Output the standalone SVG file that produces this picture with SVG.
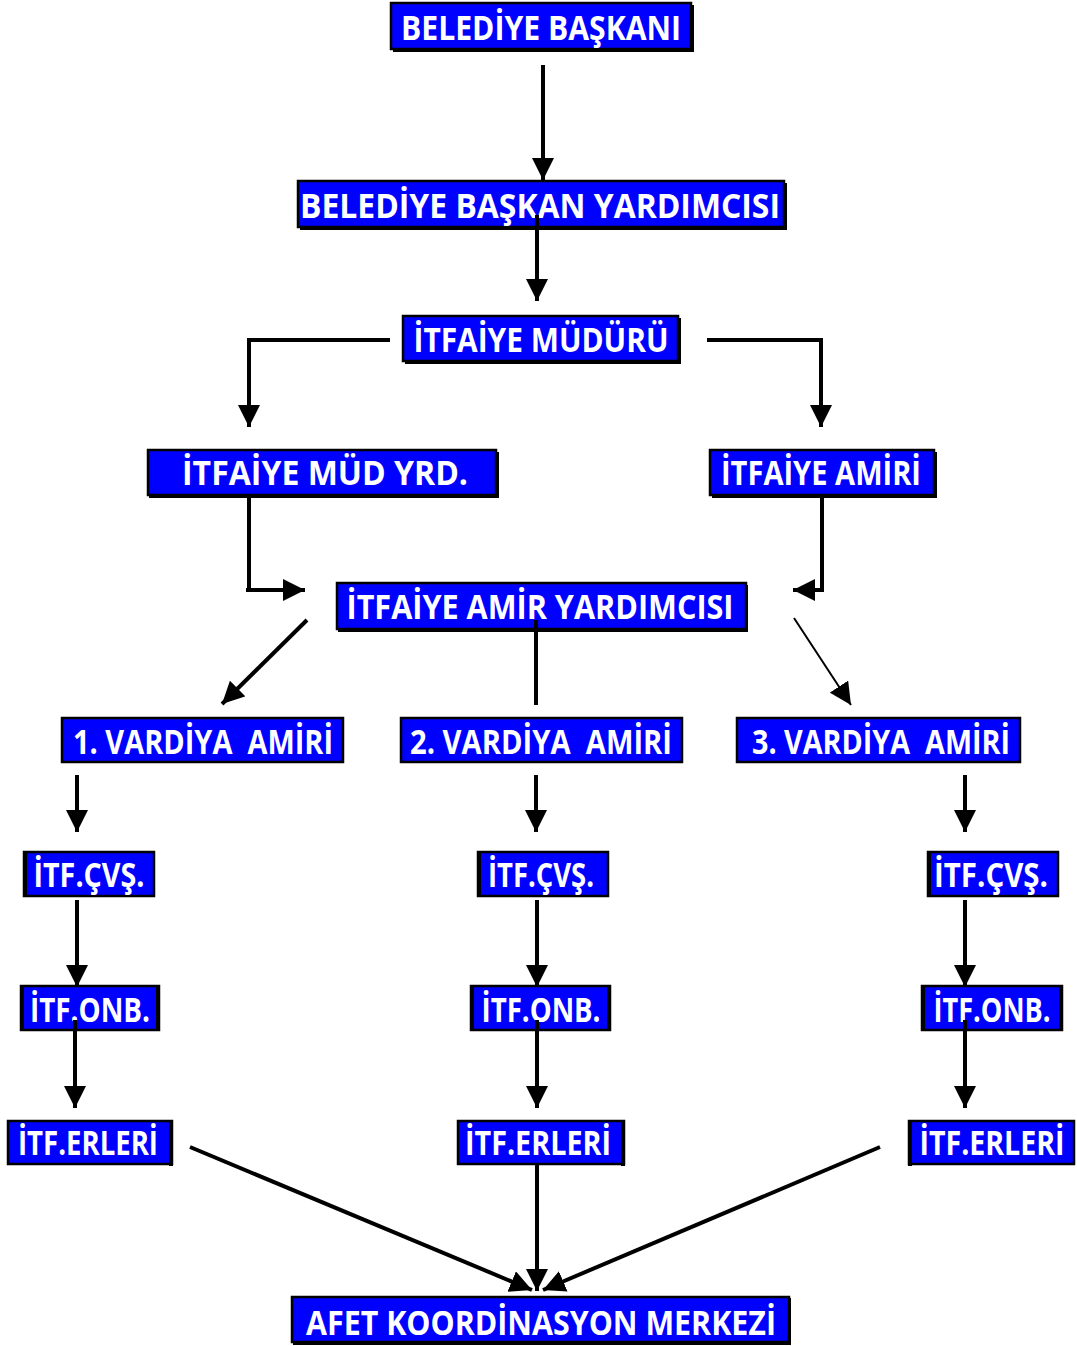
<svg xmlns="http://www.w3.org/2000/svg" width="1077" height="1346" viewBox="0 0 1077 1346">
<style>
.box{fill:#0000FF;stroke:#000;stroke-width:2.5}
.sh{fill:#000}
.t{fill:#fff;font-family:"Open Sans","Noto Sans","Liberation Sans",sans-serif;font-weight:bold;font-size:34px;text-anchor:middle;white-space:pre}
.c{fill:none;stroke:#000;stroke-width:4}
.thin{stroke-width:2}
</style>
<defs>
<marker id="ah" viewBox="0 0 20 20" refX="20" refY="10" markerWidth="22" markerHeight="22" markerUnits="userSpaceOnUse" orient="auto">
<path d="M0,0 L20,10 L0,20 z" fill="#000"/>
</marker>
</defs>
<rect width="1077" height="1346" fill="#fff"/>
<g id="n1"><rect class="sh" x="393" y="5" width="301" height="47"/><rect class="box" x="391" y="3" width="300" height="46"/><text class="t" x="541" y="40" textLength="280" lengthAdjust="spacingAndGlyphs">BELEDİYE BAŞKANI</text></g>
<g id="n2"><rect class="sh" x="300" y="183" width="487" height="47"/><rect class="box" x="298" y="181" width="486" height="46"/><text class="t" x="540" y="218" textLength="480" lengthAdjust="spacingAndGlyphs">BELEDİYE BAŞKAN YARDIMCISI</text></g>
<g id="n3"><rect class="sh" x="405" y="318" width="276" height="46"/><rect class="box" x="403" y="316" width="275" height="45"/><text class="t" x="541" y="352" textLength="255" lengthAdjust="spacingAndGlyphs">İTFAİYE MÜDÜRÜ</text></g>
<g id="n4"><rect class="sh" x="149" y="452" width="350" height="46"/><rect class="box" x="148" y="450" width="348" height="45"/><text class="t" x="325" y="485" textLength="286" lengthAdjust="spacingAndGlyphs">İTFAİYE MÜD YRD.</text></g>
<g id="n5"><rect class="sh" x="712" y="452" width="225" height="46"/><rect class="box" x="710" y="450" width="224" height="45"/><text class="t" x="821" y="485" textLength="200" lengthAdjust="spacingAndGlyphs">İTFAİYE AMİRİ</text></g>
<g id="n6"><rect class="sh" x="338" y="585" width="410" height="47"/><rect class="box" x="337" y="583" width="409" height="46"/><text class="t" x="540" y="619" textLength="387" lengthAdjust="spacingAndGlyphs">İTFAİYE AMİR YARDIMCISI</text></g>
<g id="n7"><rect class="box" x="62" y="718" width="281" height="44"/><text class="t" x="203" y="754" textLength="260" lengthAdjust="spacingAndGlyphs">1. VARDİYA  AMİRİ</text></g>
<g id="n8"><rect class="box" x="401" y="718" width="281" height="44"/><text class="t" x="541" y="754" textLength="262" lengthAdjust="spacingAndGlyphs">2. VARDİYA  AMİRİ</text></g>
<g id="n9"><rect class="box" x="737" y="718" width="283" height="44"/><text class="t" x="881" y="754" textLength="258" lengthAdjust="spacingAndGlyphs">3. VARDİYA  AMİRİ</text></g>
<g id="n10"><rect class="box" x="24" y="852" width="130" height="44"/><rect class="sh" x="23" y="851" width="4" height="46"/><text class="t" x="89" y="887" textLength="111" lengthAdjust="spacingAndGlyphs">İTF.ÇVŞ.</text></g>
<g id="n11"><rect class="box" x="478" y="852" width="130" height="44"/><rect class="sh" x="477" y="851" width="4" height="46"/><text class="t" x="541" y="887" textLength="106" lengthAdjust="spacingAndGlyphs">İTF.ÇVŞ.</text></g>
<g id="n12"><rect class="box" x="928" y="852" width="130" height="44"/><rect class="sh" x="927" y="851" width="4" height="46"/><text class="t" x="991" y="887" textLength="114" lengthAdjust="spacingAndGlyphs">İTF.ÇVŞ.</text></g>
<g id="n13"><rect class="box" x="21" y="986" width="138" height="44"/><rect class="sh" x="20" y="985" width="4" height="46"/><rect class="sh" x="156" y="985" width="4" height="46"/><text class="t" x="90" y="1022" textLength="120" lengthAdjust="spacingAndGlyphs">İTF.ONB.</text></g>
<g id="n14"><rect class="box" x="471" y="986" width="139" height="44"/><rect class="sh" x="470" y="985" width="4" height="46"/><rect class="sh" x="607" y="985" width="4" height="46"/><text class="t" x="541" y="1022" textLength="119" lengthAdjust="spacingAndGlyphs">İTF.ONB.</text></g>
<g id="n15"><rect class="box" x="922" y="986" width="140" height="44"/><rect class="sh" x="921" y="985" width="4" height="46"/><rect class="sh" x="1059" y="985" width="4" height="46"/><text class="t" x="992" y="1022" textLength="117" lengthAdjust="spacingAndGlyphs">İTF.ONB.</text></g>
<g id="n16"><rect class="box" x="8" y="1121" width="164" height="43"/><rect class="sh" x="169" y="1120" width="4" height="46"/><text class="t" x="88" y="1155" textLength="140" lengthAdjust="spacingAndGlyphs">İTF.ERLERİ</text></g>
<g id="n17"><rect class="box" x="458" y="1121" width="166" height="43"/><rect class="sh" x="621" y="1120" width="4" height="46"/><text class="t" x="538" y="1155" textLength="146" lengthAdjust="spacingAndGlyphs">İTF.ERLERİ</text></g>
<g id="n18"><rect class="box" x="909" y="1121" width="165" height="43"/><rect class="sh" x="908" y="1120" width="4" height="46"/><text class="t" x="992" y="1155" textLength="145" lengthAdjust="spacingAndGlyphs">İTF.ERLERİ</text></g>
<g id="n19"><rect class="sh" x="293" y="1298" width="498" height="47"/><rect class="box" x="292" y="1297" width="497" height="45"/><text class="t" x="541" y="1335" textLength="470" lengthAdjust="spacingAndGlyphs">AFET KOORDİNASYON MERKEZİ</text></g>
<g id="connectors">
<path class="c" d="M543,65 V180" marker-end="url(#ah)"/>
<path class="c" d="M537,215 V301" marker-end="url(#ah)"/>
<path class="c" d="M390,340 H249 V427" marker-end="url(#ah)"/>
<path class="c" d="M707,340 H821 V427" marker-end="url(#ah)"/>
<path class="c" d="M249,497 V590 M246,590 H305" marker-end="url(#ah)"/>
<path class="c" d="M822,497 V590 H793" marker-end="url(#ah)"/>
<path class="c" d="M307,620 L222,704" marker-end="url(#ah)"/>
<path class="c" d="M536,620 V705"/>
<path class="c thin" d="M794,618 L851,705" marker-end="url(#ah)"/>
<path class="c" d="M77,775 V832" marker-end="url(#ah)"/>
<path class="c" d="M536,775 V832" marker-end="url(#ah)"/>
<path class="c" d="M965,775 V832" marker-end="url(#ah)"/>
<path class="c" d="M77,900 V987" marker-end="url(#ah)"/>
<path class="c" d="M537,900 V987" marker-end="url(#ah)"/>
<path class="c" d="M965,900 V987" marker-end="url(#ah)"/>
<path class="c" d="M75,1020 V1108" marker-end="url(#ah)"/>
<path class="c" d="M537,1020 V1108" marker-end="url(#ah)"/>
<path class="c" d="M965,1020 V1108" marker-end="url(#ah)"/>
<path class="c" d="M190,1147 L532,1290" marker-end="url(#ah)"/>
<path class="c" d="M537,1165 V1291" marker-end="url(#ah)"/>
<path class="c" d="M880,1147 L543,1290" marker-end="url(#ah)"/>
</g>
</svg>
